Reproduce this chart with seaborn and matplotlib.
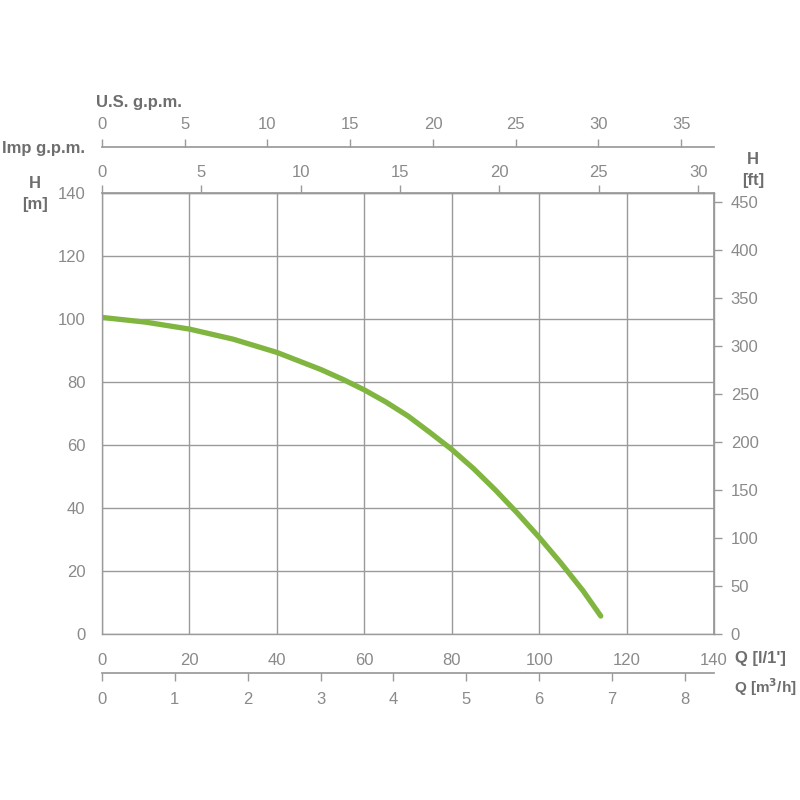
import matplotlib
matplotlib.use("Agg")
import matplotlib.pyplot as plt
import seaborn as sns
import pandas as pd

# Pump curve: flow Q [l/min] vs head H [m]
flow_lpm = [0, 10, 20, 30, 40, 50, 55, 60, 65, 70, 75, 80, 85, 90, 95, 100, 105, 110, 114.1]
head_m = [100.5, 99.0, 96.8, 93.6, 89.4, 84.0, 80.9, 77.5, 73.6, 69.2, 64.0, 58.6,
          52.5, 45.7, 38.4, 30.7, 22.5, 13.8, 5.7]

q_ticks = [0, 20, 40, 60, 80, 100, 120, 140]
h_ticks = [0, 20, 40, 60, 80, 100, 120, 140]
ft_ticks = [0, 50, 100, 150, 200, 250, 300, 350, 400, 450]
imp_ticks = [0, 5, 10, 15, 20, 25, 30]
us_ticks = [0, 5, 10, 15, 20, 25, 30, 35]
m3h_ticks = [0, 1, 2, 3, 4, 5, 6, 7, 8]

sns.set_theme(style="white")
plt.rcParams['font.family'] = ['Liberation Sans', 'DejaVu Sans']

grey = '#9a9a9a'
txt = '#8a8a8a'
lab = '#6e6e6e'
green = '#80b540'
fs = 12

fig = plt.figure(figsize=(8, 8), dpi=100)
ax = fig.add_axes([0.1275, 0.2075, 0.765, 0.55125])

df = pd.DataFrame({'Q': flow_lpm, 'H': head_m})
sns.lineplot(data=df, x='Q', y='H', ax=ax, color=green, linewidth=3.8,
             solid_capstyle='round', solid_joinstyle='round')

ax.set_xlim(0, 140)
ax.set_ylim(0, 140)
ax.set_xticks(q_ticks)
ax.set_yticks(h_ticks)
ax.set_xlabel('')
ax.set_ylabel('')
ax.grid(True, color=grey, linewidth=1.0)
for s in ax.spines.values():
    s.set_visible(True)
    s.set_color(grey)
    s.set_linewidth(1.0)

tick_kw = dict(colors=grey, labelcolor=txt, labelsize=fs, width=1.0)
ax.tick_params(axis='y', length=5, direction='out', pad=7, **tick_kw)
ax.tick_params(axis='x', length=5, direction='out', pad=9, **tick_kw)

# Imp g.p.m. on the top spine
imp = ax.secondary_xaxis('top', functions=(lambda q: q / 4.54609, lambda g: g * 4.54609))
imp.set_xticks(imp_ticks)
imp.tick_params(length=6, direction='out', pad=3, **tick_kw)
imp.spines['top'].set_color(grey)

# U.S. g.p.m. higher up
us = ax.secondary_xaxis(1.104, functions=(lambda q: q / 3.78541, lambda g: g * 3.78541))
us.set_xticks(us_ticks)
us.tick_params(length=6, direction='out', pad=5, **tick_kw)
us.spines['top'].set_color(grey)

# m3/h below
m3 = ax.secondary_xaxis(-0.088, functions=(lambda q: q * 0.06, lambda v: v / 0.06))
m3.set_xticks(m3h_ticks)
m3.tick_params(length=6, direction='out', pad=8, **tick_kw)
m3.spines['bottom'].set_color(grey)

# H in feet on the right
ft = ax.secondary_yaxis('right', functions=(lambda m: m * 3.28084, lambda f: f / 3.28084))
ft.set_yticks(ft_ticks)
ft.tick_params(length=6, direction='out', pad=6, **tick_kw)
ft.spines['right'].set_color(grey)

bold = dict(color=lab, fontsize=fs, fontweight='bold', ha='center', va='center')
fig.text(35 / 800, 1 - 183 / 800, 'H', **bold)
fig.text(35 / 800, 1 - 204 / 800, '[m]', **bold)
fig.text(753 / 800, 1 - 160 / 800, 'H', **bold)
fig.text(753 / 800, 1 - 181 / 800, '[ft]', **bold)
fig.text(139 / 800, 1 - 102 / 800, 'U.S. g.p.m.', **bold)
fig.text(43 / 800, 1 - 148 / 800, 'Imp g.p.m.', **bold)
fig.text(735 / 800, 1 - 659 / 800, "Q [l/1']", color=lab, fontsize=fs,
         fontweight='bold', ha='left', va='center')
fig.text(734 / 800, 1 - 687 / 800, 'Q [m$^\\mathbf{3}$/h]', color=lab, fontsize=11,
         fontweight='bold', ha='left', va='center')

fig.savefig('out.png', dpi=100, facecolor='white')
